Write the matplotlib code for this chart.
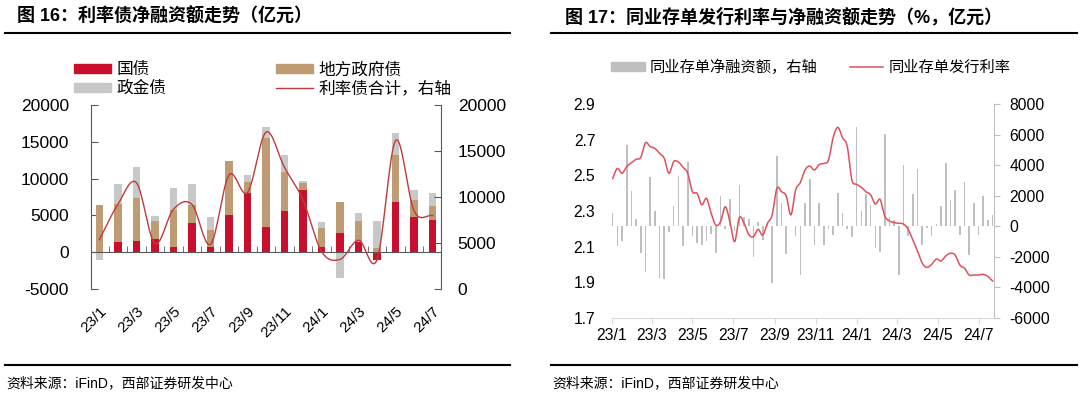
import numpy as np
import pandas as pd
import matplotlib
matplotlib.use('Agg')
import matplotlib.pyplot as plt
import matplotlib.dates as mdates
from matplotlib.lines import Line2D
from matplotlib.patches import Patch

plt.rcParams['font.family'] = ['Liberation Sans', 'Noto Sans CJK SC']
plt.rcParams['axes.unicode_minus'] = False

# ---- left chart: monthly net financing of rate bonds (亿元)
months = ['23/1', '23/2', '23/3', '23/4', '23/5', '23/6', '23/7', '23/8', '23/9', '23/10',
          '23/11', '23/12', '24/1', '24/2', '24/3', '24/4', '24/5', '24/6', '24/7']
gov_bond = [0, 1360, 1540, 1770, 680, 3990, 770, 5120, 8070, 3450,
            5580, 8440, 680, 2630, 1400, -1000, 6850, 4760, 4310]
local_bond = [6400, 5220, 5850, 2450, 5080, 2400, 2230, 7260, 1450, 12110,
              5350, 990, 2630, 4130, 2820, 540, 6350, 2270, 1900]
policy_bond = [-1050, 2620, 4170, 720, 2900, 2810, 1850, 0, 960, 1490,
               2270, 230, 770, -3540, 1090, 3680, 2950, 1450, 1770]

# ---- right chart: weekly NCD net financing (亿元) and issue rate (%)
ncd_net = [900, -1300, -940, 5300, 2300, 500, -1740, -2980, 3200, 1000,
           -3400, -3450, -350, 1300, 3300, -1300, 4200, -650, -1100, -1240,
           -980, -480, -1740, 2000, -150, 1800, -300, 2700, 600, 450,
           -2000, 260, -870, 200, -3700, 4600, 1550, -1800, 50, -650,
           -3200, 1500, 3100, -1250, 1500, -1200, -170, -600, 2200, 870,
           -170, -720, 6500, 1000, 2100, 1400, -1400, -1700, 6050, 600,
           400, -3200, 4000, -650, 2100, 3750, -1250, -130, -650, 170,
           1350, 4150, 1750, 2400, -600, 2900, -1850, 1500, -600, 1950,
           400, 760]
ncd_rate = [2.483, 2.539, 2.511, 2.549, 2.571, 2.590, 2.601, 2.683, 2.661, 2.651,
            2.623, 2.595, 2.511, 2.577, 2.575, 2.545, 2.511, 2.408, 2.399, 2.334,
            2.371, 2.287, 2.221, 2.240, 2.324, 2.240, 2.128, 2.263, 2.231, 2.169,
            2.156, 2.197, 2.165, 2.231, 2.278, 2.427, 2.408, 2.384, 2.278, 2.418,
            2.459, 2.530, 2.552, 2.530, 2.560, 2.567, 2.585, 2.712, 2.769, 2.710,
            2.663, 2.474, 2.450, 2.433, 2.408, 2.390, 2.339, 2.365, 2.272, 2.244,
            2.235, 2.231, 2.227, 2.197, 2.137, 2.076, 2.007, 1.984, 2.001, 2.031,
            2.020, 2.048, 2.063, 2.053, 1.997, 1.979, 1.941, 1.941, 1.941, 1.945,
            1.932, 1.907]
ncd_weeks = pd.date_range('2023-01-02', periods=len(ncd_net), freq='7D')

RED = '#C8102E'
TAN = '#BF9B73'
GREY = '#C8C8C8'
AXC = '#595959'


def smooth(x, y, n=16):
    # Catmull-Rom curve through the points (like Excel's smoothed line)
    x = np.asarray(x, float)
    y = np.asarray(y, float)
    res = []
    for v in (x, y):
        p = np.concatenate([[2 * v[0] - v[1]], v, [2 * v[-1] - v[-2]]])
        p0, p1, p2, p3 = p[:-3], p[1:-2], p[2:-1], p[3:]
        t = np.linspace(0, 1, n, endpoint=False)[:, None]
        f = 0.5 * (2 * p1 + (p2 - p0) * t + (2 * p0 - 5 * p1 + 4 * p2 - p3) * t ** 2
                   + (3 * p1 - p0 - 3 * p2 + p3) * t ** 3)
        res.append(np.append(f.T.ravel(), v[-1]))
    return res


W, H = 1080, 396
fig = plt.figure(figsize=(W / 100, H / 100), dpi=100)

# ================= left chart =================
ax = fig.add_axes([91 / W, 1 - 289 / H, 350 / W, 184 / H])
x = np.arange(len(months))
pos_base = np.zeros(len(x))
neg_base = np.zeros(len(x))
for vals, col in [(gov_bond, RED), (local_bond, TAN), (policy_bond, GREY)]:
    v = np.array(vals, float)
    base = np.where(v >= 0, pos_base, neg_base)
    ax.bar(x, v, bottom=base, width=0.4, color=col, zorder=2)
    pos_base += np.where(v >= 0, v, 0)
    neg_base += np.where(v < 0, v, 0)

total = np.array(gov_bond) + np.array(local_bond) + np.array(policy_bond)
ax2 = ax.twinx()
sx, sy = smooth(x, total)
ax2.plot(sx, sy, color='#C0393B', lw=1)
ax2.set_ylim(0, 20000)
ax2.set_yticks(range(0, 20001, 5000))
for s in ['top', 'left', 'bottom']:
    ax2.spines[s].set_visible(False)
ax2.spines['right'].set_color(AXC)
ax2.tick_params(axis='y', direction='in', length=5, color=AXC, pad=12, labelsize=12.5)

ax.yaxis.tick_left()
ax.set_xlim(-0.45, len(x) - 0.55)
ax.set_ylim(-5000, 20000)
ax.set_yticks(range(-5000, 20001, 5000))
for s in ['top', 'right']:
    ax.spines[s].set_visible(False)
ax.spines['left'].set_color(AXC)
ax.spines['bottom'].set_position(('data', 0))
ax.spines['bottom'].set_color(AXC)
ax.spines['bottom'].set_zorder(3)
ax.set_xticks([])
ax.set_xticks(np.arange(0.5, len(x) - 1, 1), minor=True)
ax.tick_params(axis='x', which='minor', direction='in', length=4, color=AXC)
ax.tick_params(axis='y', direction='in', length=5, color=AXC, pad=16, labelsize=12.5)

sec = ax.secondary_xaxis(0.0)
sec.set_xticks(x[::2], labels=months[::2])
for lab in sec.get_xticklabels():
    lab.set_rotation(45)
    lab.set_ha('right')
    lab.set_rotation_mode('anchor')
sec.tick_params(length=0, pad=11, labelsize=11)
sec.spines['bottom'].set_visible(False)

h_left = [Patch(color=RED), Patch(color=GREY), Patch(color=TAN), Line2D([], [], color='#C0393B', lw=1)]
l_left = ['国债', '政金债', '地方政府债', '利率债合计，右轴']
fig.legend(h_left, l_left, ncol=2, loc='upper left', bbox_to_anchor=(74 / W, 1 - 62 / H),
           frameon=False, fontsize=12, handlelength=2.2, handleheight=0.5,
           handletextpad=0.35, columnspacing=6.6, labelspacing=0.2,
           borderpad=0, borderaxespad=0)

# ================= right chart =================
ax3 = fig.add_axes([612 / W, 1 - 318 / H, 382 / W, 214 / H])
ax3.bar(ncd_weeks, ncd_net, width=2.4, color='#BFBFBF')

ax4 = ax3.twinx()
rx, ry = smooth(mdates.date2num(ncd_weeks), ncd_rate, n=8)
ax4.plot(rx, ry, color='#E0505B', lw=1.1)
ax4.set_ylim(1.7, 2.9)
ax4.set_yticks(np.arange(1.7, 2.91, 0.2), labels=[f'{v:.1f}' for v in np.arange(1.7, 2.91, 0.2)])
ax4.yaxis.tick_left()
ax4.tick_params(axis='y', length=0, pad=12, labelsize=11.3)
for s in ax4.spines.values():
    s.set_visible(False)

ax3.yaxis.tick_right()
ax3.set_ylim(-6000, 8000)
ax3.set_yticks(range(-6000, 8001, 2000))
for s in ['top', 'left']:
    ax3.spines[s].set_visible(False)
ax3.spines['right'].set_color('#BFBFBF')
ax3.spines['bottom'].set_color('#D9D9D9')
ax3.tick_params(axis='y', direction='out', length=4, color='#BFBFBF', pad=7, labelsize=11.3)
xt = pd.date_range('2023-01-01', '2024-07-01', freq='2MS')
ax3.set_xticks(xt, labels=[f'{d.year % 100}/{d.month}' for d in xt])
ax3.tick_params(axis='x', direction='out', length=4, color='#D9D9D9', pad=3, labelsize=11.3)
ax3.set_xlim(pd.Timestamp('2023-01-01'), pd.Timestamp('2024-07-24'))

h_right = [Patch(color='#BFBFBF'), Line2D([], [], color='#E0505B', lw=1.1)]
l_right = ['同业存单净融资额，右轴', '同业存单发行利率']
fig.legend(h_right, l_right, ncol=2, loc='center left', bbox_to_anchor=(611 / W, 1 - 67 / H),
           frameon=False, fontsize=11, handlelength=2.2, handleheight=0.5,
           handletextpad=0.35, columnspacing=2.1, borderpad=0, borderaxespad=0)

# ---- titles, rules and source notes
fig.text(17 / W, 1 - 17 / H, '图 16：利率债净融资额走势（亿元）', va='center', fontsize=13, fontweight='bold')
fig.text(565 / W, 1 - 17 / H, '图 17：同业存单发行利率与净融资额走势（%，亿元）', va='center', fontsize=13, fontweight='bold')
for x0, x1 in [(5, 510), (551, 1077)]:
    fig.add_artist(Line2D([x0 / W, x1 / W], [1 - 33 / H] * 2, color='black', lw=1.5))
    fig.add_artist(Line2D([x0 / W, x1 / W], [1 - 365 / H] * 2, color='black', lw=1.5))
    fig.text((x0 + 1) / W, 1 - 383 / H, '资料来源：iFinD，西部证券研发中心', va='center', fontsize=10)

fig.savefig('out.png', dpi=100)
